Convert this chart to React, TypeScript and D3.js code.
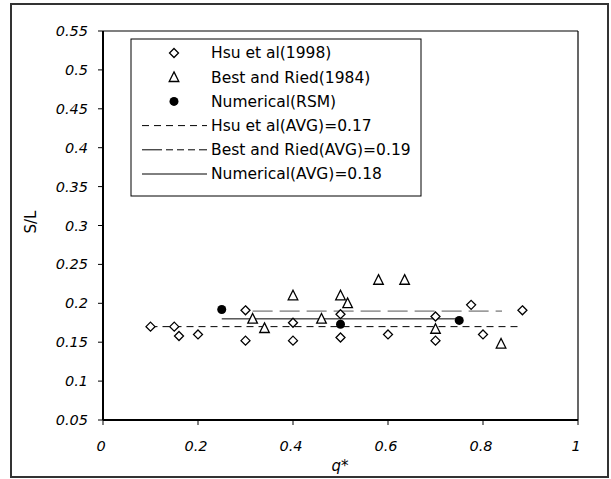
import * as d3 from 'd3';
import React from 'react';

// Hsu et al (1998)
const hsuQ = [0.1, 0.15, 0.16, 0.2, 0.3, 0.3, 0.4, 0.4, 0.5, 0.5, 0.6, 0.7, 0.7, 0.775, 0.8, 0.883];
const hsuSL = [0.17, 0.17, 0.158, 0.16, 0.191, 0.152, 0.175, 0.152, 0.186, 0.156, 0.16, 0.183, 0.152, 0.198, 0.16, 0.191];

// Best and Ried (1984)
const bestQ = [0.315, 0.34, 0.4, 0.46, 0.5, 0.515, 0.58, 0.635, 0.7, 0.838];
const bestSL = [0.18, 0.168, 0.21, 0.18, 0.21, 0.2, 0.23, 0.23, 0.167, 0.148];

// Numerical (RSM)
const numQ = [0.25, 0.5, 0.75];
const numSL = [0.192, 0.173, 0.178];

// average lines
const avgLabels = ['Hsu et al(AVG)=0.17', 'Best and Ried(AVG)=0.19', 'Numerical(AVG)=0.18'];
const avgValues = [0.17, 0.19, 0.18];
const avgFrom = [0.1, 0.315, 0.25];
const avgTo = [0.88, 0.84, 0.75];

const pointLabels = ['Hsu et al(1998)', 'Best and Ried(1984)', 'Numerical(RSM)'];

const xTicks = [0, 0.2, 0.4, 0.6, 0.8, 1];
const yTicks = [0.05, 0.1, 0.15, 0.2, 0.25, 0.3, 0.35, 0.4, 0.45, 0.5, 0.55];

const W = 611;
const H = 479;
const plot = { left: 103, right: 578, top: 31, bottom: 420 };
const font = '"DejaVu Sans", Verdana, sans-serif';

const avgDash = ['7,5', '20,7', 'none'];
const avgColor = ['#000', '#555', '#000'];
const legendDash = ['7,5', '20,4,7,4,7,4,7,4', 'none'];

const diamond = (cx: number, cy: number, r = 4.5) =>
  `M${cx},${cy - r}L${cx + r},${cy}L${cx},${cy + r}L${cx - r},${cy}Z`;
const triangle = (cx: number, cy: number, r = 4.8) =>
  `M${cx},${cy - r - 0.5}L${cx + r},${cy + r - 0.5}L${cx - r},${cy + r - 0.5}Z`;

const Marker: React.FC<{ kind: number; cx: number; cy: number }> = ({ kind, cx, cy }) => {
  if (kind === 0)
    return <path d={diamond(cx, cy)} fill="#fff" stroke="#000" strokeWidth={1.3} />;
  if (kind === 1)
    return <path d={triangle(cx, cy)} fill="#fff" stroke="#000" strokeWidth={1.3} />;
  return <circle cx={cx} cy={cy} r={4.5} fill="#000" />;
};

export default function App() {
  const x = d3.scaleLinear().domain([0, 1]).range([plot.left, plot.right]);
  const y = d3.scaleLinear().domain([0.05, 0.55]).range([plot.bottom, plot.top]);

  const series = [
    { q: hsuQ, sl: hsuSL },
    { q: bestQ, sl: bestSL },
    { q: numQ, sl: numSL },
  ];

  const legend = { x: 131, y: 39, w: 290, h: 157 };
  const rowY = (i: number) => 53 + i * 24.2;

  return (
    <svg
      width={W}
      height={H}
      style={{ position: 'absolute', left: 0, top: 0, background: '#fff' }}
      fontFamily={font}
    >
      <rect x={0} y={0} width={W} height={H} fill="#fff" />
      {/* outer frame */}
      <rect x={11} y={4} width={597} height={473} fill="none" stroke="#333" strokeWidth={2} />

      {/* plot frame */}
      <line x1={plot.left} x2={plot.right} y1={plot.top} y2={plot.top} stroke="#000" strokeWidth={1.2} />
      <line x1={plot.right} x2={plot.right} y1={plot.top} y2={plot.bottom} stroke="#000" strokeWidth={1.2} />

      {/* y axis */}
      <line x1={plot.left} x2={plot.left} y1={plot.top} y2={plot.bottom} stroke="#000" strokeWidth={2} />
      {yTicks.map((t) => (
        <g key={t}>
          <line x1={plot.left - 5} x2={plot.left} y1={y(t)} y2={y(t)} stroke="#000" strokeWidth={1} />
          <text
            x={88}
            y={y(t)}
            dy="0.35em"
            textAnchor="end"
            fontSize={14.5}
            fontStyle="italic"
            fill="#000"
          >
            {String(t)}
          </text>
        </g>
      ))}

      {/* x axis */}
      <line x1={plot.left} x2={plot.right} y1={plot.bottom} y2={plot.bottom} stroke="#000" strokeWidth={2} />
      {xTicks.map((t) => (
        <g key={t}>
          <line x1={x(t)} x2={x(t)} y1={plot.bottom} y2={plot.bottom + 5} stroke="#000" strokeWidth={1} />
          <text
            x={x(t) - 2}
            y={446}
            dy="0.35em"
            textAnchor="middle"
            fontSize={14.5}
            fontStyle="italic"
            fill="#000"
          >
            {String(t)}
          </text>
        </g>
      ))}

      <text x={340} y={466} dy="0.35em" textAnchor="middle" fontSize={15} fontStyle="italic">
        q*
      </text>
      <text
        transform={`translate(31,222) rotate(-90)`}
        dy="0.35em"
        textAnchor="middle"
        fontSize={15}
      >
        S/L
      </text>

      {/* average lines */}
      {avgValues.map((v, i) => (
        <line
          key={`avg${i}`}
          x1={x(avgFrom[i])}
          x2={x(avgTo[i])}
          y1={y(v)}
          y2={y(v)}
          stroke={avgColor[i]}
          strokeWidth={1}
          strokeDasharray={avgDash[i]}
        />
      ))}

      {/* points */}
      {series.map((s, k) =>
        s.q.map((q, i) => <Marker key={`p${k}-${i}`} kind={k} cx={x(q)} cy={y(s.sl[i])} />)
      )}

      {/* legend */}
      <rect x={legend.x} y={legend.y} width={legend.w} height={legend.h} fill="#fff" stroke="#000" strokeWidth={1} />
      {pointLabels.map((lab, i) => (
        <g key={lab}>
          <Marker kind={i} cx={174} cy={rowY(i)} />
          <text x={211} y={rowY(i)} dy="0.35em" fontSize={15.5}>
            {lab}
          </text>
        </g>
      ))}
      {avgLabels.map((lab, i) => (
        <g key={lab}>
          <line
            x1={142}
            x2={207}
            y1={rowY(i + 3)}
            y2={rowY(i + 3)}
            stroke="#000"
            strokeWidth={1}
            strokeDasharray={legendDash[i]}
          />
          <text x={211} y={rowY(i + 3)} dy="0.35em" fontSize={15.5}>
            {lab}
          </text>
        </g>
      ))}
    </svg>
  );
}
